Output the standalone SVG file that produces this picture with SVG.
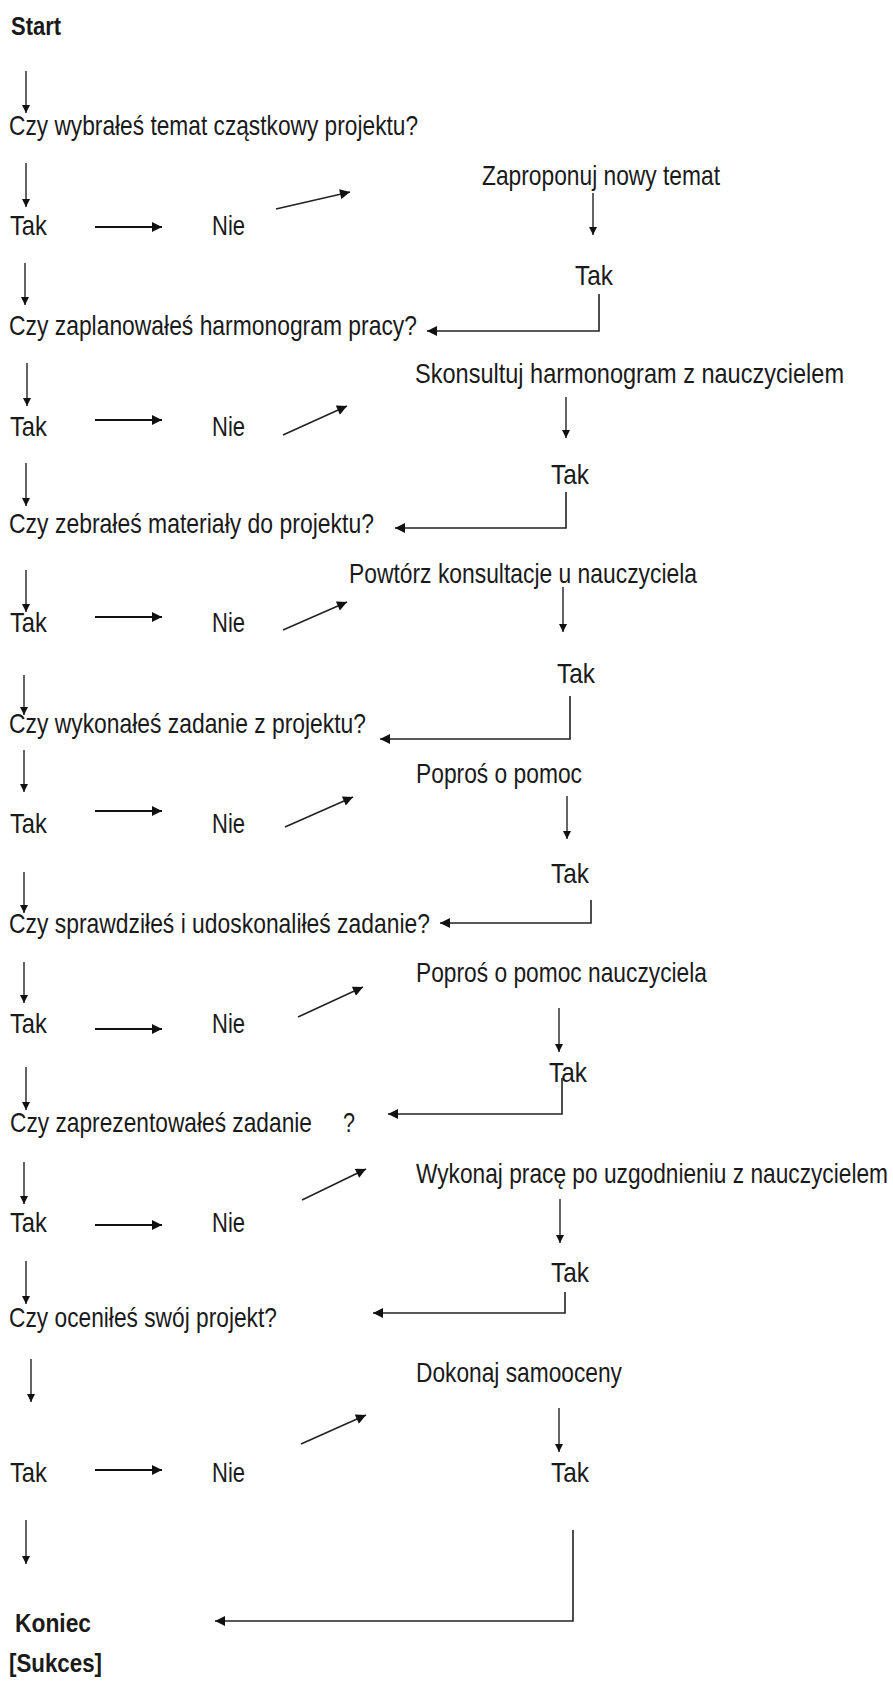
<svg xmlns="http://www.w3.org/2000/svg" width="893" height="1686" viewBox="0 0 893 1686">
<style>
text{font-family:"Liberation Sans",Arial,sans-serif;fill:#1a1a1a}
.t{font-size:27px}
.b{font-size:26px;font-weight:bold}
.v{stroke:#111;stroke-width:1.3;fill:none;marker-end:url(#ha)}
.h{stroke:#111;stroke-width:2.2;fill:none;marker-end:url(#hb)}
.d{stroke:#222;stroke-width:1.6;fill:none;marker-end:url(#hb)}
.e{stroke:#222;stroke-width:1.6;fill:none;marker-end:url(#hb)}
</style>
<defs>
<marker id="ha" viewBox="0 0 10 10" refX="10" refY="5" markerWidth="11" markerHeight="8" markerUnits="userSpaceOnUse" orient="auto"><path d="M0,0 L10,5 L0,10 z" fill="#111"/></marker>
<marker id="hb" viewBox="0 0 10 10" refX="10" refY="5" markerWidth="11" markerHeight="10" markerUnits="userSpaceOnUse" orient="auto"><path d="M0,0 L10,5 L0,10 z" fill="#111"/></marker>
</defs>
<rect width="893" height="1686" fill="#fff"/>

<g id="start"><text class="b" transform="translate(11,35) scale(0.87,1)" textLength="57.5" lengthAdjust="spacingAndGlyphs">Start</text></g>

<g id="q1"><text class="t" transform="translate(9,135) scale(0.84,1)" textLength="487" lengthAdjust="spacingAndGlyphs">Czy wybrałeś temat cząstkowy projektu?</text></g>
<g id="tak1"><text class="t" transform="translate(10,235) scale(0.84,1)" textLength="44" lengthAdjust="spacingAndGlyphs">Tak</text></g>
<g id="nie1"><text class="t" transform="translate(212,235) scale(0.84,1)" textLength="39.3" lengthAdjust="spacingAndGlyphs">Nie</text></g>
<g id="a1"><text class="t" transform="translate(482,185) scale(0.84,1)" textLength="283.3" lengthAdjust="spacingAndGlyphs">Zaproponuj nowy temat</text></g>
<g id="rt1"><text class="t" transform="translate(575,285) scale(0.84,1)" textLength="45.2" lengthAdjust="spacingAndGlyphs">Tak</text></g>

<g id="q2"><text class="t" transform="translate(9,335) scale(0.84,1)" textLength="485.7" lengthAdjust="spacingAndGlyphs">Czy zaplanowałeś harmonogram pracy?</text></g>
<g id="tak2"><text class="t" transform="translate(10,436) scale(0.84,1)" textLength="44" lengthAdjust="spacingAndGlyphs">Tak</text></g>
<g id="nie2"><text class="t" transform="translate(212,436) scale(0.84,1)" textLength="39.3" lengthAdjust="spacingAndGlyphs">Nie</text></g>
<g id="a2"><text class="t" transform="translate(415,383) scale(0.84,1)" textLength="510.7" lengthAdjust="spacingAndGlyphs">Skonsultuj harmonogram z nauczycielem</text></g>
<g id="rt2"><text class="t" transform="translate(551,484) scale(0.84,1)" textLength="45.2" lengthAdjust="spacingAndGlyphs">Tak</text></g>

<g id="q3"><text class="t" transform="translate(9,533) scale(0.84,1)" textLength="434.5" lengthAdjust="spacingAndGlyphs">Czy zebrałeś materiały do projektu?</text></g>
<g id="tak3"><text class="t" transform="translate(10,632) scale(0.84,1)" textLength="44" lengthAdjust="spacingAndGlyphs">Tak</text></g>
<g id="nie3"><text class="t" transform="translate(212,632) scale(0.84,1)" textLength="39.3" lengthAdjust="spacingAndGlyphs">Nie</text></g>
<g id="a3"><text class="t" transform="translate(349,583) scale(0.84,1)" textLength="414.3" lengthAdjust="spacingAndGlyphs">Powtórz konsultacje u nauczyciela</text></g>
<g id="rt3"><text class="t" transform="translate(557,683) scale(0.84,1)" textLength="45.2" lengthAdjust="spacingAndGlyphs">Tak</text></g>

<g id="q4"><text class="t" transform="translate(9,733) scale(0.84,1)" textLength="425" lengthAdjust="spacingAndGlyphs">Czy wykonałeś zadanie z projektu?</text></g>
<g id="tak4"><text class="t" transform="translate(10,833) scale(0.84,1)" textLength="44" lengthAdjust="spacingAndGlyphs">Tak</text></g>
<g id="nie4"><text class="t" transform="translate(212,833) scale(0.84,1)" textLength="39.3" lengthAdjust="spacingAndGlyphs">Nie</text></g>
<g id="a4"><text class="t" transform="translate(416,783) scale(0.84,1)" textLength="197.6" lengthAdjust="spacingAndGlyphs">Poproś o pomoc</text></g>
<g id="rt4"><text class="t" transform="translate(551,883) scale(0.84,1)" textLength="45.2" lengthAdjust="spacingAndGlyphs">Tak</text></g>

<g id="q5"><text class="t" transform="translate(9,933) scale(0.84,1)" textLength="501.2" lengthAdjust="spacingAndGlyphs">Czy sprawdziłeś i udoskonaliłeś zadanie?</text></g>
<g id="tak5"><text class="t" transform="translate(10,1033) scale(0.84,1)" textLength="44" lengthAdjust="spacingAndGlyphs">Tak</text></g>
<g id="nie5"><text class="t" transform="translate(212,1033) scale(0.84,1)" textLength="39.3" lengthAdjust="spacingAndGlyphs">Nie</text></g>
<g id="a5"><text class="t" transform="translate(416,982) scale(0.84,1)" textLength="346.4" lengthAdjust="spacingAndGlyphs">Poproś o pomoc nauczyciela</text></g>
<g id="rt5"><text class="t" transform="translate(549,1082) scale(0.84,1)" textLength="45.2" lengthAdjust="spacingAndGlyphs">Tak</text></g>

<g id="q6"><text class="t" transform="translate(10,1132) scale(0.84,1)" textLength="359.5" lengthAdjust="spacingAndGlyphs">Czy zaprezentowałeś zadanie</text><text class="t" transform="translate(343,1132) scale(0.84,1)" textLength="14.3" lengthAdjust="spacingAndGlyphs">?</text></g>
<g id="tak6"><text class="t" transform="translate(10,1232) scale(0.84,1)" textLength="44" lengthAdjust="spacingAndGlyphs">Tak</text></g>
<g id="nie6"><text class="t" transform="translate(212,1232) scale(0.84,1)" textLength="39.3" lengthAdjust="spacingAndGlyphs">Nie</text></g>
<g id="a6"><text class="t" transform="translate(416,1183) scale(0.84,1)" textLength="561.9" lengthAdjust="spacingAndGlyphs">Wykonaj pracę po uzgodnieniu z nauczycielem</text></g>
<g id="rt6"><text class="t" transform="translate(551,1282) scale(0.84,1)" textLength="45.2" lengthAdjust="spacingAndGlyphs">Tak</text></g>

<g id="q7"><text class="t" transform="translate(9,1327) scale(0.84,1)" textLength="319" lengthAdjust="spacingAndGlyphs">Czy oceniłeś swój projekt?</text></g>
<g id="tak7"><text class="t" transform="translate(10,1482) scale(0.84,1)" textLength="44" lengthAdjust="spacingAndGlyphs">Tak</text></g>
<g id="nie7"><text class="t" transform="translate(212,1482) scale(0.84,1)" textLength="39.3" lengthAdjust="spacingAndGlyphs">Nie</text></g>
<g id="a7"><text class="t" transform="translate(416,1382) scale(0.84,1)" textLength="245.2" lengthAdjust="spacingAndGlyphs">Dokonaj samooceny</text></g>
<g id="rt7"><text class="t" transform="translate(551,1482) scale(0.84,1)" textLength="45.2" lengthAdjust="spacingAndGlyphs">Tak</text></g>

<g id="end"><text class="b" transform="translate(15,1632) scale(0.87,1)" textLength="87.4" lengthAdjust="spacingAndGlyphs">Koniec</text><text class="b" transform="translate(9,1672) scale(0.87,1)" textLength="106.9" lengthAdjust="spacingAndGlyphs">[Sukces]</text></g>

<g id="connectors">
<path class="v" d="M26,71V113"/>
<path class="v" d="M26,163V207"/>
<path class="v" d="M25,263V305"/>
<path class="v" d="M27,363V406"/>
<path class="v" d="M26,463V506"/>
<path class="v" d="M26,570V612"/>
<path class="v" d="M24,675V715"/>
<path class="v" d="M24,750V792"/>
<path class="v" d="M24,872V913"/>
<path class="v" d="M24,962V1003"/>
<path class="v" d="M26,1067V1110"/>
<path class="v" d="M24,1162V1204"/>
<path class="v" d="M26,1261V1304"/>
<path class="v" d="M31,1359V1402"/>
<path class="v" d="M26,1520V1564"/>

<path class="h" d="M95,227H162"/>
<path class="h" d="M95,420H162"/>
<path class="h" d="M95,617H162"/>
<path class="h" d="M95,811H162"/>
<path class="h" d="M95,1029H162"/>
<path class="h" d="M95,1225H162"/>
<path class="h" d="M95,1470H162"/>

<path class="d" d="M276,209L350,192"/>
<path class="d" d="M283,435L347,406"/>
<path class="d" d="M283,630L347,602"/>
<path class="d" d="M285,827L353,797"/>
<path class="d" d="M298,1017L363,987"/>
<path class="d" d="M302,1200L366,1169"/>
<path class="d" d="M301,1444L366,1415"/>

<path class="v" d="M593,193V235"/>
<path class="v" d="M566,397V438"/>
<path class="v" d="M563,587V632"/>
<path class="v" d="M567,796V839"/>
<path class="v" d="M559,1008V1052"/>
<path class="v" d="M560,1199V1243"/>
<path class="v" d="M559,1408V1452"/>

<path class="e" d="M599,294V331H427"/>
<path class="e" d="M566,492V528H395"/>
<path class="e" d="M570,696V739H380"/>
<path class="e" d="M591,900V923H440"/>
<path class="e" d="M562,1078V1114H388"/>
<path class="e" d="M565,1292V1313H373"/>
<path class="e" d="M573,1530V1621H215"/>
</g>
</svg>
